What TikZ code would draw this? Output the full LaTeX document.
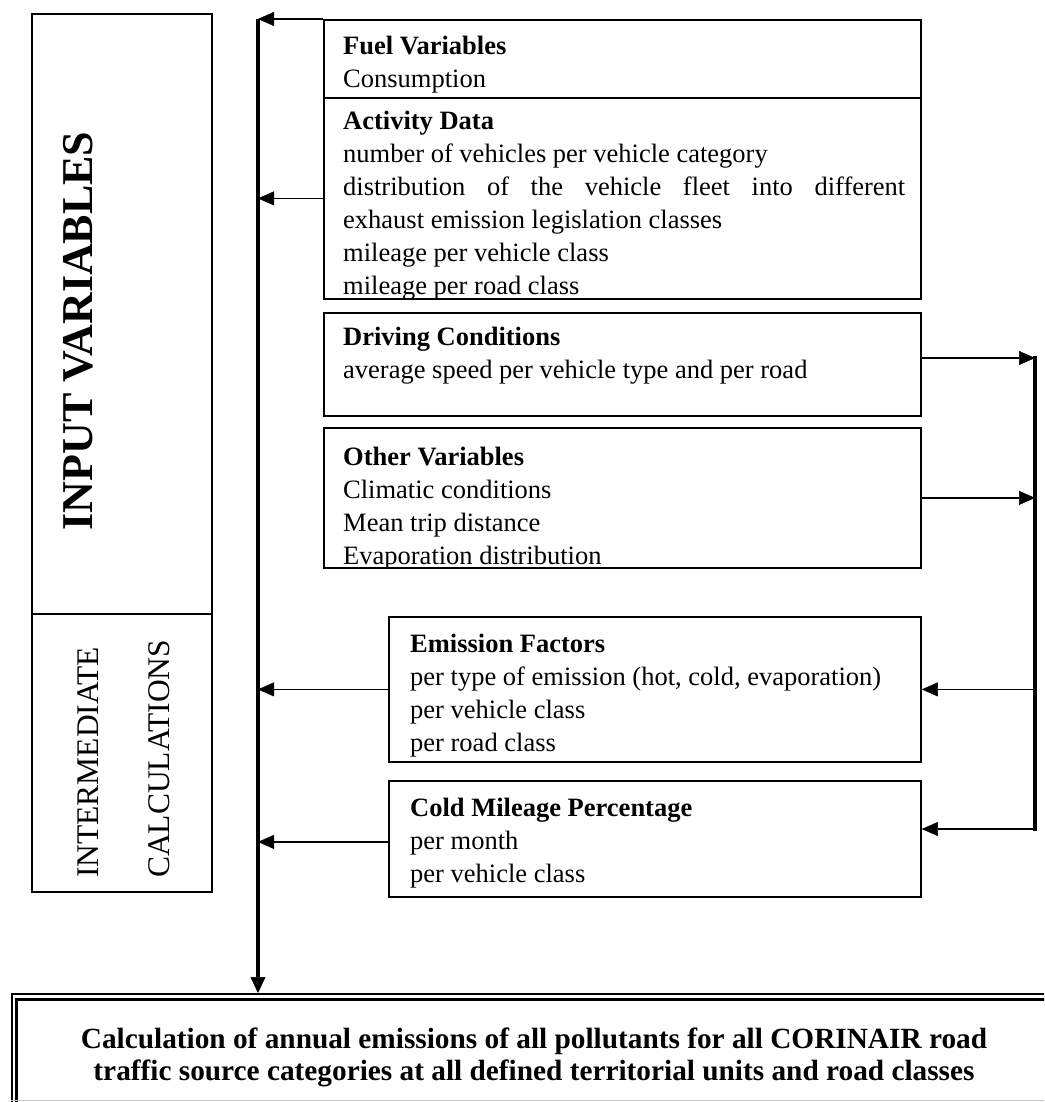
\documentclass[tikz,border=0pt]{standalone}
\usepackage{fontspec}
\setmainfont{Liberation Serif}
\usetikzlibrary{arrows.meta,calc}
\newcommand\boxlines[1]{\vtop{\hsize=575pt\parindent=0pt\parskip=0pt\raggedright #1\par}}
\tikzset{
  box/.style={draw, line width=1.8pt, inner sep=0pt, anchor=north west},
  conn/.style={line width=1.8pt, -{Triangle[length=16pt,width=14pt,line width=0.5pt]}},
  bus/.style={line width=4.5pt},
  body/.style={font=\fontsize{26.5}{33}\selectfont, anchor=base west, inner sep=0pt},
  bigtitle/.style={font=\fontsize{44}{50}\selectfont\bfseries, rotate=90, inner sep=0pt},
  sidetitle/.style={font=\fontsize{31.5}{36}\selectfont, rotate=90, anchor=base west, inner sep=0pt},
  resulttext/.style={font=\fontsize{29.3}{33}\selectfont\bfseries, anchor=base, inner sep=0pt}
}
\begin{document}
\begin{tikzpicture}[x=1pt,y=-1pt]
\useasboundingbox (0,0) rectangle (1044,1102);
\clip (0,0) rectangle (1044,1102);
\fill[white] (0,0) rectangle (1044,1102);

% left column
\node[box, minimum width=180, minimum height=600] (inbox) at (31,13) {};
\node[box, minimum width=180, minimum height=278] (intbox) at (31,613) {};
\node[bigtitle] (inlabel) at (78,331) {INPUT VARIABLES};
\node[sidetitle] (intlabelA) at (98,878) {INTERMEDIATE};
\node[sidetitle] (intlabelB) at (169,878) {CALCULATIONS};

% boxes
\node[box, minimum width=597, minimum height=78]  (fuel) at (323,19) {};
\node[box, minimum width=597, minimum height=201] (act)  at (323,97) {};
\node[box, minimum width=597, minimum height=103] (drv)  at (323,312) {};
\node[box, minimum width=597, minimum height=140] (oth)  at (323,427) {};
\node[box, minimum width=532, minimum height=145] (emi)  at (388,616) {};
\node[box, minimum width=532, minimum height=116] (cold) at (388,780) {};

% texts
\node[body] (fuelT) at (343,55) {\boxlines{\textbf{Fuel Variables}\\Consumption}};
\begin{scope}
\clip (act.north west) rectangle (act.south east);
\node[body] (actT) at (343,130) {\boxlines{\textbf{Activity Data}\\
number of vehicles per vehicle category\\
\makebox[562pt][s]{distribution of the vehicle fleet into different}\\
exhaust emission legislation classes\\
mileage per vehicle class\\
mileage per road class}};
\end{scope}
\node[body] (drvT) at (343,345) {\boxlines{\textbf{Driving Conditions}\\average speed per vehicle type and per road}};
\begin{scope}
\clip (oth.north west) rectangle (oth.south east);
\node[body] (othT) at (343,465) {\boxlines{\textbf{Other Variables}\\Climatic conditions\\Mean trip distance\\Evaporation distribution}};
\end{scope}
\node[body] (emiT) at (410,652) {\boxlines{\textbf{Emission Factors}\\per type of emission (hot, cold, evaporation)\\per vehicle class\\per road class}};
\node[body] (coldT) at (410,816) {\boxlines{\textbf{Cold Mileage Percentage}\\per month\\per vehicle class}};

% result box
\node[box, line width=2pt, minimum width=1060, minimum height=130] (calc) at (11,993) {};
\draw[line width=3pt] ([shift={(5.5,6.5)}]calc.north west) rectangle ([shift={(-5.5,-6.5)}]calc.south east);
\draw[gray!45, line width=1pt] (11,1100.5) -- (1044,1100.5);
\node[resulttext] (calcA) at (534,1048) {Calculation of annual emissions of all pollutants for all CORINAIR road};
\node[resulttext] (calcB) at (534,1080) {traffic source categories at all defined territorial units and road classes};

% buses
\coordinate (mtop) at (258,19);
\coordinate (rtop) at (1035,358);
\coordinate (rbot) at (1035,829);
\coordinate (coldin) at ($(cold.west)+(0,3)$);
\draw[bus, -{Triangle[length=16pt,width=15pt,line width=0.5pt]}] (mtop) -- (mtop |- calc.north);
\draw[bus, line cap=rect] (rtop) -- (rbot);

% connectors to the left bus
\draw[conn] (fuel.north west) -- (fuel.north west -| mtop);
\draw[conn] (act.west) -- (act.west -| mtop);
\draw[conn] (emi.west) -- (emi.west -| mtop);
\draw[conn] (coldin) -- (coldin -| mtop);

% connectors on the right bus
\draw[conn] (drv.east |- rtop) -- (rtop);
\draw[conn] (oth.east) -- (oth.east -| rtop);
\draw[conn] (emi.east -| rtop) -- (emi.east);
\draw[conn] (rbot) -- (rbot -| cold.east);
\end{tikzpicture}
\end{document}
